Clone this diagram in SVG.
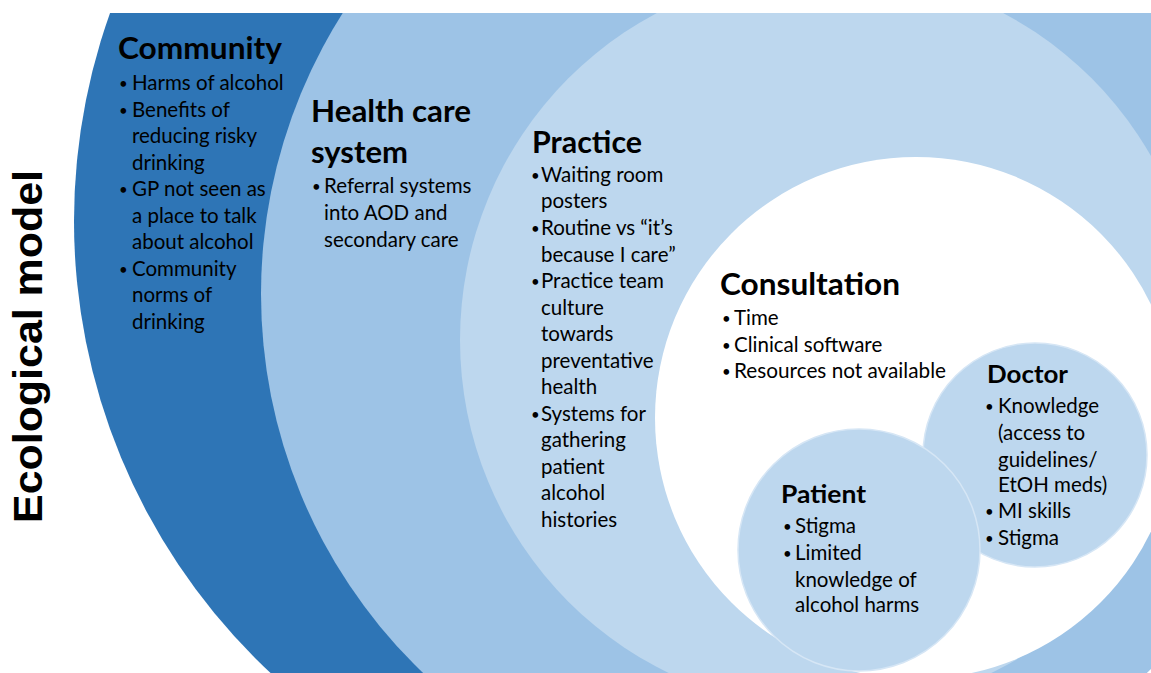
<svg xmlns="http://www.w3.org/2000/svg" width="1151" height="673" viewBox="0 0 1151 673">
  <defs>
    <!-- visible frame of the nested rings -->
    <clipPath id="frame">
      <rect x="0" y="13" width="1151" height="660"/>
    </clipPath>
  </defs>
  <style>
    .t { font-family: Lato, "Open Sans", "Liberation Sans", sans-serif; fill: #000; }
    .h { font-size: 29.5px; font-weight: 700; }
    .hs { font-size: 25.5px; font-weight: 700; }
    .b { font-size: 20.5px; }
    .dot { font-size: 15px; }
    .ring-community { fill: #2e75b6; }
    .ring-health { fill: #9dc3e6; }
    .ring-practice { fill: #bdd7ee; }
    .ring-consult { fill: #ffffff; }
    .bubble { fill: #bdd7ee; stroke: #d6e6f5; stroke-width: 1.5; }
  </style>

  <rect width="1151" height="673" fill="#ffffff"/>

  <!-- vertical heading -->
  <g id="title">
    <text transform="translate(42,346.5) rotate(-90)" text-anchor="middle" font-family="'Liberation Sans', Arial, sans-serif" font-weight="700" font-size="40" textLength="353" lengthAdjust="spacingAndGlyphs">Ecological model</text>
  </g>

  <g clip-path="url(#frame)">
    <g id="community">
      <circle class="ring-community" cx="692" cy="221" r="618"/>
      <text class="t h" x="118" y="59" textLength="164" lengthAdjust="spacingAndGlyphs">Community</text>
      <text class="t b"><tspan class="dot" x="119" y="89">•</tspan><tspan x="132" y="90">Harms of alcohol</tspan></text>
      <text class="t b"><tspan class="dot" x="119" y="115.5">•</tspan><tspan x="132" y="116.5">Benefits of</tspan></text>
      <text class="t b" x="132" y="143">reducing risky</text>
      <text class="t b" x="132" y="169.5">drinking</text>
      <text class="t b"><tspan class="dot" x="119" y="195">•</tspan><tspan x="132" y="196">GP not seen as</tspan></text>
      <text class="t b" x="132" y="222.5">a place to talk</text>
      <text class="t b" x="132" y="249">about alcohol</text>
      <text class="t b"><tspan class="dot" x="119" y="274.5">•</tspan><tspan x="132" y="275.5">Community</tspan></text>
      <text class="t b" x="132" y="302">norms of</text>
      <text class="t b" x="132" y="328.5">drinking</text>
    </g>

    <g id="health-care-system">
      <circle class="ring-health" cx="785" cy="294" r="524"/>
      <text class="t h" x="311" y="122" textLength="160" lengthAdjust="spacingAndGlyphs">Health care</text>
      <text class="t h" x="311" y="163" textLength="97" lengthAdjust="spacingAndGlyphs">system</text>
      <text class="t b"><tspan class="dot" x="312" y="192">•</tspan><tspan x="324" y="193">Referral systems</tspan></text>
      <text class="t b" x="324" y="220">into AOD and</text>
      <text class="t b" x="324" y="247">secondary care</text>
    </g>

    <g id="practice">
      <circle class="ring-practice" cx="830" cy="340" r="370"/>
      <text class="t h" x="532" y="153" textLength="110" lengthAdjust="spacingAndGlyphs">Practice</text>
      <text class="t b"><tspan class="dot" x="531" y="181">•</tspan><tspan x="541" y="182">Waiting room</tspan></text>
      <text class="t b" x="541" y="208">posters</text>
      <text class="t b"><tspan class="dot" x="531" y="234">•</tspan><tspan x="541" y="235">Routine vs “it’s</tspan></text>
      <text class="t b" x="541" y="262">because I care”</text>
      <text class="t b"><tspan class="dot" x="531" y="287">•</tspan><tspan x="541" y="288">Practice team</tspan></text>
      <text class="t b" x="541" y="315">culture</text>
      <text class="t b" x="541" y="341">towards</text>
      <text class="t b" x="541" y="368">preventative</text>
      <text class="t b" x="541" y="394">health</text>
      <text class="t b"><tspan class="dot" x="531" y="420">•</tspan><tspan x="541" y="421">Systems for</tspan></text>
      <text class="t b" x="541" y="447">gathering</text>
      <text class="t b" x="541" y="474">patient</text>
      <text class="t b" x="541" y="500">alcohol</text>
      <text class="t b" x="541" y="527">histories</text>
    </g>

    <g id="consultation">
      <circle class="ring-consult" cx="916" cy="418" r="261"/>
      <text class="t h" x="720" y="295" textLength="180" lengthAdjust="spacingAndGlyphs">Consultation</text>
      <text class="t b"><tspan class="dot" x="722" y="324">•</tspan><tspan x="734" y="325">Time</tspan></text>
      <text class="t b"><tspan class="dot" x="722" y="351">•</tspan><tspan x="734" y="352">Clinical software</tspan></text>
      <text class="t b"><tspan class="dot" x="722" y="377">•</tspan><tspan x="734" y="378" textLength="212" lengthAdjust="spacingAndGlyphs">Resources not available</tspan></text>
    </g>

    <g id="doctor">
      <circle class="bubble" cx="1035" cy="455" r="112"/>
      <text class="t hs" x="987" y="383" textLength="81" lengthAdjust="spacingAndGlyphs">Doctor</text>
      <text class="t b"><tspan class="dot" x="985" y="412">•</tspan><tspan x="998" y="413">Knowledge</tspan></text>
      <text class="t b" x="998" y="440">(access to</text>
      <text class="t b" x="998" y="467">guidelines/</text>
      <text class="t b" x="998" y="492">EtOH meds)</text>
      <text class="t b"><tspan class="dot" x="985" y="517">•</tspan><tspan x="998" y="518">MI skills</tspan></text>
      <text class="t b"><tspan class="dot" x="985" y="544">•</tspan><tspan x="998" y="545">Stigma</tspan></text>
    </g>

    <g id="patient">
      <circle class="bubble" cx="859" cy="550" r="121"/>
      <text class="t hs" x="781" y="503" textLength="85" lengthAdjust="spacingAndGlyphs">Patient</text>
      <text class="t b"><tspan class="dot" x="783" y="532">•</tspan><tspan x="795" y="533">Stigma</tspan></text>
      <text class="t b"><tspan class="dot" x="783" y="559">•</tspan><tspan x="795" y="560">Limited</tspan></text>
      <text class="t b" x="795" y="587">knowledge of</text>
      <text class="t b" x="795" y="612">alcohol harms</text>
    </g>
  </g>

  <!-- no links between the rings -->
  <g id="connectors"/>
</svg>
